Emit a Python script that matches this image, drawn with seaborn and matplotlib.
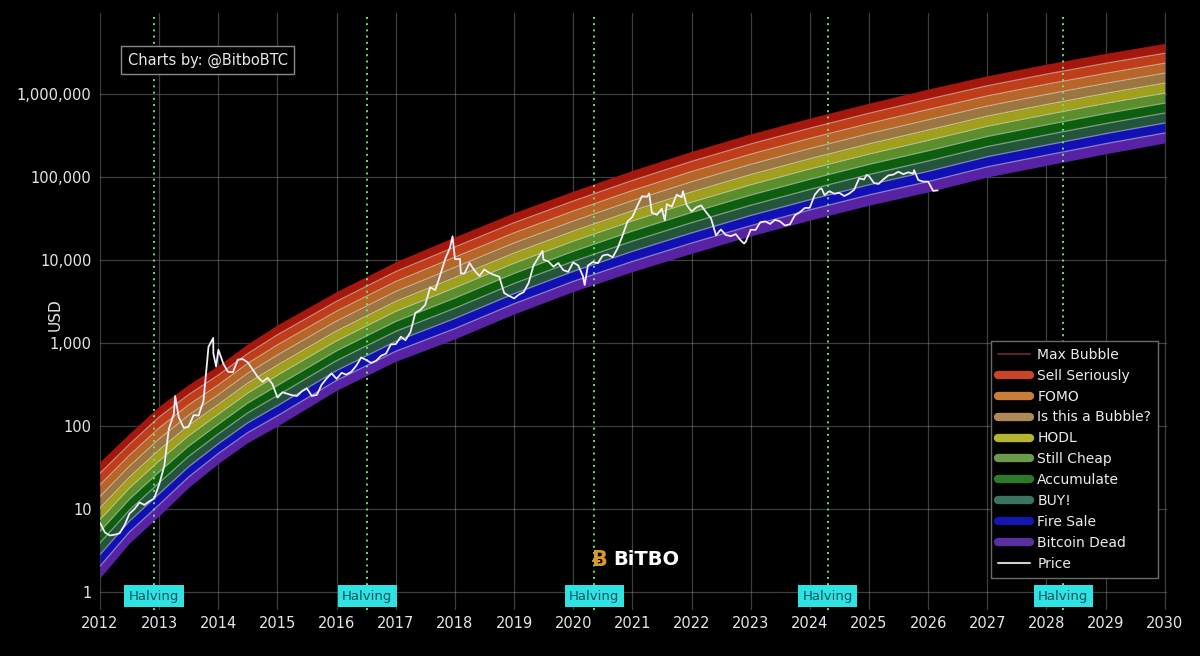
import numpy as np
import pandas as pd
import matplotlib
matplotlib.use("Agg")
import matplotlib.pyplot as plt
import matplotlib.dates as mdates
import matplotlib.transforms as mtransforms
from matplotlib.lines import Line2D
from matplotlib.ticker import FixedLocator, FuncFormatter
import seaborn as sns

# rainbow band limits (log10 USD)
band_dates = ["2012-01-01", "2012-07-01", "2013-01-01", "2013-07-01", "2014-01-01",
              "2014-07-01", "2015-01-01", "2016-01-01", "2017-01-01", "2018-01-01",
              "2019-01-01", "2020-01-01", "2021-01-01", "2022-01-01", "2023-01-01",
              "2024-01-01", "2025-01-01", "2026-01-01", "2027-01-01", "2028-01-01",
              "2029-01-01", "2030-01-01"]
band_top_log = [1.57, 1.91, 2.24, 2.50, 2.73, 2.99, 3.22, 3.62, 3.98, 4.28,
                4.57, 4.83, 5.08, 5.31, 5.52, 5.71, 5.89, 6.06, 6.22, 6.36,
                6.49, 6.61]
band_bottom_log = [0.17, 0.59, 0.92, 1.26, 1.55, 1.80, 2.00, 2.43, 2.78, 3.05,
                   3.35, 3.62, 3.86, 4.08, 4.29, 4.48, 4.66, 4.82, 5.00, 5.14,
                   5.28, 5.41]
# edge positions inside the rainbow, top (1) to bottom (0)
band_edges = [1.0, 0.9, 0.8, 0.7, 0.6, 0.5, 0.4, 0.3, 0.2, 0.1, 0.0]

band_names = ["Max Bubble", "Sell Seriously", "FOMO", "Is this a Bubble?", "HODL",
              "Still Cheap", "Accumulate", "BUY!", "Fire Sale", "Bitcoin Dead"]
band_colors = ["#a3170c", "#bf3d18", "#b86628", "#9c7640", "#a0a01c",
               "#5c8e2c", "#0e5e10", "#23553a", "#1010b4", "#5822a4"]
legend_colors = ["#5a2424", "#c8452a", "#c87d3a", "#b0895a", "#b5b530",
                 "#6a9a4a", "#2a7a2a", "#3a7560", "#1515b0", "#5a30a0"]

# monthly BTC price (USD), Jan 2012 .. Mar 2026
price_start = "2012-01-01"
price_values = [
    6.8, 5.2, 4.8, 4.9, 5.1, 6.4, 8.8, 10.0, 12.0, 11.2, 12.4, 13.4,          # 2012
    20, 33, 92, 140, 128, 95, 98, 135, 134, 200, 900, 750,                    # 2013
    830, 560, 450, 445, 630, 640, 585, 480, 390, 340, 380, 320,               # 2014
    220, 255, 245, 235, 230, 262, 285, 230, 237, 315, 375, 430,               # 2015
    370, 437, 416, 450, 530, 670, 625, 575, 610, 700, 745, 960,               # 2016
    970, 1190, 1080, 1350, 2300, 2500, 2870, 4700, 4340, 6470, 10200, 14000,  # 2017
    10200, 10300, 6900, 9200, 7500, 6400, 7700, 7000, 6600, 6300, 4000, 3700, # 2018
    3450, 3850, 4100, 5300, 8600, 10800, 10100, 9600, 8300, 9200, 7550, 7200, # 2019
    9350, 8600, 6400, 8600, 9450, 9150, 11300, 11650, 10800, 13800, 19700, 29000,   # 2020
    33100, 45200, 58800, 57700, 37300, 35000, 41500, 47100, 43800, 61300, 57000, 46300,  # 2021
    38500, 43200, 45500, 37700, 31800, 19800, 23300, 20000, 19400, 20500, 17200, 16500,  # 2022
    23100, 23100, 28500, 29200, 27200, 30500, 29200, 26000, 27000, 34600, 37700, 42300,  # 2023
    42600, 61200, 71300, 60600, 67500, 62700, 64600, 59000, 63300, 70200, 96400, 93400,  # 2024
    102400, 84400, 82500, 94200, 104600, 107100, 115700, 108200, 114000, 109500, 92000, 88000,  # 2025
    88000, 68000, 69000,                                                      # 2026
]
# a few intra-month peaks and dips
peak_dates = ["2013-04-09", "2013-11-30", "2013-12-18", "2017-12-17", "2018-02-06",
              "2019-06-26", "2020-03-12", "2021-04-14", "2021-07-20", "2021-11-09",
              "2022-11-21", "2024-03-14", "2024-12-17", "2025-10-06"]
peak_values = [230, 1150, 520, 19300, 6900, 12900, 5000, 63500, 30000, 67500,
               15800, 73000, 106000, 121000]

halving_dates = ["2012-11-28", "2016-07-09", "2020-05-11", "2024-04-20", "2028-04-15"]

y_ticks = [1, 10, 100, 1000, 10000, 100000, 1000000]
year_ticks = list(range(2012, 2031))

# build frames
bands = pd.DataFrame({"date": pd.to_datetime(band_dates),
                      "top": band_top_log, "bottom": band_bottom_log})
price = pd.DataFrame({
    "date": list(pd.date_range(price_start, periods=len(price_values), freq="MS"))
            + list(pd.to_datetime(peak_dates)),
    "price": price_values + peak_values,
}).sort_values("date")

sns.set_theme(style="dark")
plt.rcParams["font.family"] = ["DejaVu Sans"]

fig = plt.figure(figsize=(12, 6.56), dpi=100, facecolor="black")
ax = fig.add_axes([100 / 1200, 1 - 610 / 656, 1067 / 1200, 597 / 656])
ax.set_facecolor("black")


def edge(f):
    return 10 ** (bands["bottom"] + f * (bands["top"] - bands["bottom"]))


# rainbow
for i, name in enumerate(band_names):
    ax.fill_between(bands["date"], edge(band_edges[i + 1]), edge(band_edges[i]),
                    color=band_colors[i], lw=0, zorder=2)
for i in range(1, len(band_edges) - 1):
    c = np.array(matplotlib.colors.to_rgb(band_colors[i]))
    lc = c * 0.45 + 0.55
    ax.plot(bands["date"], edge(band_edges[i]), color=lc, lw=1.0, alpha=0.75, zorder=3)

# gridlines show through the rainbow
ax.grid(True, color="#8a8a8a", lw=0.9, alpha=0.45, zorder=3.5)
for s in ax.spines.values():
    s.set_visible(False)

# halving lines
trans = mtransforms.blended_transform_factory(ax.transData, ax.transAxes)
for d in halving_dates:
    x = pd.Timestamp(d)
    ax.axvline(x, color="#6fe06f", lw=1.4, ls=(0, (1, 2.2)), zorder=4)
    ax.text(x, 0.023, "Halving", transform=trans, ha="center", va="center",
            fontsize=9.5, color="#0b5566", zorder=6,
            bbox=dict(boxstyle="square,pad=0.35", fc="#2fe3e3", ec="none"))

# price
sns.lineplot(data=price, x="date", y="price", ax=ax, color="#f2eef8", lw=1.3,
             zorder=5, legend=False)

ax.set_yscale("log")
ax.set_ylim(10 ** -0.217, 10 ** 6.976)
ax.set_xlim(pd.Timestamp("2012-01-01"), pd.Timestamp("2030-01-15"))

ax.yaxis.set_major_locator(FixedLocator(y_ticks))
ax.yaxis.set_minor_locator(FixedLocator([]))
ax.yaxis.set_major_formatter(FuncFormatter(lambda v, p: f"{v:,.0f}"))
ax.set_xticks([pd.Timestamp(f"{y}-01-01") for y in year_ticks])
ax.xaxis.set_major_formatter(mdates.DateFormatter("%Y"))

ax.tick_params(axis="both", colors="#e6e6e6", labelsize=10.5, length=0)
ax.tick_params(axis="y", pad=6)
ax.tick_params(axis="x", pad=4)
ax.set_xlabel("")
ax.set_ylabel("")
fig.text(55 / 1200, 1 - 315 / 656, "USD", rotation=90, ha="center", va="center",
         color="#e6e6e6", fontsize=11)

# credit box and logo
ax.text(0.026, 0.921, "Charts by: @BitboBTC", transform=ax.transAxes, ha="left",
        va="center", fontsize=10.5, color="#e8e8e8", zorder=7,
        bbox=dict(boxstyle="square,pad=0.45", fc="black", ec="#8a8a8a", lw=1))
ax.text(0.468, 0.084, "\u0243", transform=ax.transAxes, ha="center", va="center",
        fontsize=15, color="#d79a2b", fontweight="bold", zorder=7)
ax.text(0.481, 0.084, "BiTBO", transform=ax.transAxes, ha="left", va="center",
        fontsize=14, color="white", fontweight="bold", zorder=7)

# legend
handles = []
for i, name in enumerate(band_names):
    lw = 1.5 if i == 0 else 6
    handles.append(Line2D([0], [0], color=legend_colors[i], lw=lw, label=name))
handles.append(Line2D([0], [0], color="#cfcfcf", lw=1.5, label="Price"))
leg = ax.legend(handles=handles, loc="lower right", bbox_to_anchor=(0.9916, 0.0536),
                fontsize=10, labelspacing=0.5, handlelength=2.3, handletextpad=0.5,
                borderpad=0.5, fancybox=False, framealpha=1, borderaxespad=0)
leg.get_frame().set_facecolor("black")
leg.get_frame().set_edgecolor("#6a6a6a")
leg.set_zorder(8)
for t in leg.get_texts():
    t.set_color("#ececec")

fig.savefig("out.png", dpi=100, facecolor="black")
